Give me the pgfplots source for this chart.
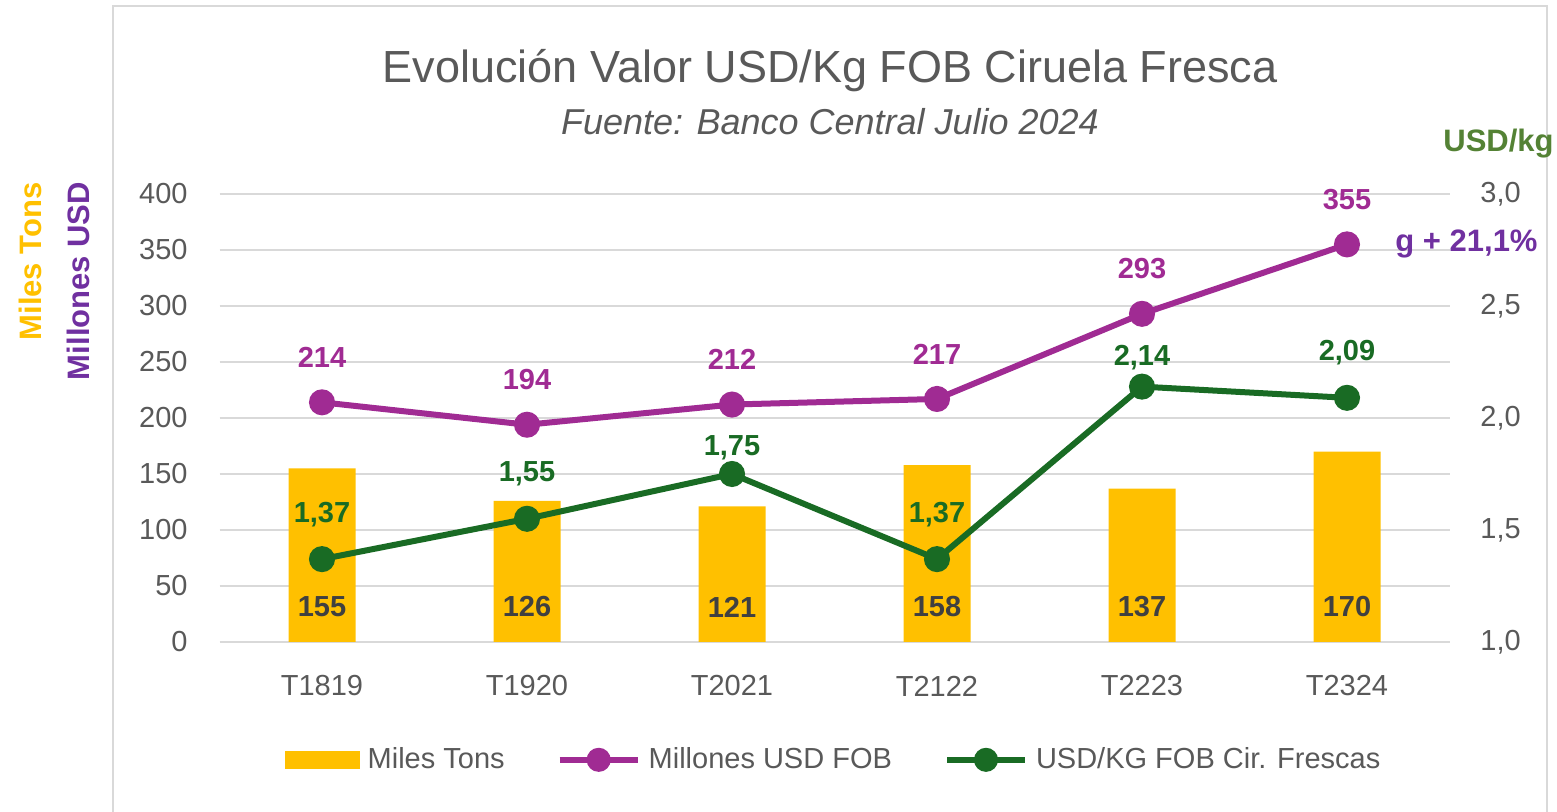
\documentclass[border=0pt]{standalone}
\usepackage{fontspec}
\setmainfont{Liberation Sans}
\usepackage{pgfplots}
\pgfplotsset{compat=1.18}

\definecolor{barY}{HTML}{FFC000}
\definecolor{purp}{HTML}{A02B93}
\definecolor{grn}{HTML}{196B24}
\definecolor{grnLab}{HTML}{548235}
\definecolor{violet}{HTML}{7030A0}
\definecolor{tickgray}{HTML}{595959}
\definecolor{labgray}{HTML}{404040}
\definecolor{gridgray}{HTML}{D9D9D9}

\newcommand{\fs}[1]{\fontsize{#1}{#1}\selectfont}

\pgfplotsset{
  /pgf/number format/assume math mode=true,
  common/.style={
    at={(0,0)}, anchor=south west,
    width=615pt, height=224pt, scale only axis,
    xmin=-0.5, xmax=5.5,
    axis line style={draw=none},
    major tick length=0pt,
    tick label style={font=\fs{14.5}, text=tickgray},
    clip=false,
  },
  linelegend/.style={
    legend image code/.code={
      \draw[mark repeat=2, mark phase=2, ##1, mark size=4.5pt] plot coordinates {(0pt,0pt) (19.5pt,0pt) (39pt,0pt)};
    }
  },
}

\begin{document}
\begin{tikzpicture}
\useasboundingbox (-109.75pt,-85pt) rectangle (668.75pt,321pt);
\draw[gridgray, line width=1pt] (-53.25pt,-95pt) rectangle (663.75pt,318pt);

% left axis: tons and millions
\begin{axis}[common,
  ymin=0, ymax=400, ytick={0,50,...,400},
  xtick={0,...,5}, xticklabels={T1819,T1920,T2021,T2122,T2223,T2324},
  ymajorgrids, grid style={draw=gridgray, line width=1pt},
  yticklabel style={inner sep=0pt, anchor=east, xshift=-15.75pt},
  xticklabel style={inner sep=0pt, anchor=center, yshift=-22pt},
  legend style={at={(0.5,-0.263)}, anchor=center, draw=none, fill=none,
    font=\fs{14.5}, text=tickgray,
    /tikz/every odd column/.append style={column sep=2pt},
    /tikz/every even column/.append style={column sep=24pt}},
  legend columns=3, legend cell align=left,
]
\addplot[ybar, bar width=33.5pt, fill=barY, draw=none,
  legend image code/.code={\fill[barY] (0pt,-4.5pt) rectangle (37.5pt,4.5pt);}]
  coordinates {(0,155) (1,126) (2,121) (3,158) (4,137) (5,170)};
\addlegendentry{Miles Tons}
\addplot[purp, line width=3pt, mark=*, mark size=5pt, mark options={draw=none, fill=purp}, linelegend]
  coordinates {(0,214) (1,194) (2,212) (3,217) (4,293) (5,355)};
\addlegendentry{Millones USD FOB}
\addlegendimage{grn, line width=3pt, mark=*, mark size=5pt, mark options={draw=none, fill=grn}, linelegend}
\addlegendentry{USD/KG FOB Cir. Frescas}

% labels of the millions line
\addplot[draw=none, mark=none, forget plot, nodes near coords,
  every node near coord/.append style={anchor=center, yshift=22.5pt, font=\bfseries\fs{14.5}, text=purp}]
  coordinates {(0,214) (1,194) (2,212) (3,217) (4,293) (5,355)};
% labels of the bars, at their base
\addplot[draw=none, mark=none, forget plot, nodes near coords, point meta=explicit symbolic,
  every node near coord/.append style={anchor=center, font=\bfseries\fs{14.5}, text=labgray}]
  table[meta=lab] {
x y lab
0 31.3 155
1 31.3 126
2 31.3 121
3 31.3 158
4 31.3 137
5 31.3 170
};
\end{axis}

% right axis: USD/kg
\begin{axis}[common,
  ymin=1, ymax=3, ytick={1,1.5,...,3},
  hide x axis, axis y line*=right,
  yticklabel style={inner sep=0pt, anchor=west, xshift=15.25pt,
    /pgf/number format/.cd, fixed, fixed zerofill, precision=1, use comma},
]
\addplot[grn, line width=3pt, mark=*, mark size=5pt, mark options={draw=none, fill=grn}]
  coordinates {(0,1.37) (1,1.55) (2,1.75) (3,1.37) (4,2.14) (5,2.09)};
\addplot[draw=none, mark=none, nodes near coords, point meta=explicit symbolic,
  every node near coord/.append style={anchor=center, font=\bfseries\fs{14.5}, text=grn}]
  table[meta=lab] {
x y lab
0 1.567 1,37
1 1.750 1,55
2 1.866 1,75
3 1.567 1,37
4 2.268 2,14
5 2.290 2,09
};
\end{axis}

\node[anchor=base, text=tickgray, font=\fs{22.5}] at (305.25pt,279.5pt) {Evolución Valor USD/Kg FOB Ciruela Fresca};
\node[anchor=base, text=tickgray, font=\itshape\fs{18}] at (305.25pt,253.5pt) {Fuente: Banco Central Julio 2024};
\node[anchor=base, rotate=90, text=barY, font=\bfseries\fs{15.5}] at (-88.75pt,190.25pt) {Miles Tons};
\node[anchor=base, rotate=90, text=violet, font=\bfseries\fs{15.5}] at (-64.75pt,180.5pt) {Millones USD};
\node[anchor=base west, inner sep=0pt, text=grnLab, font=\bfseries\fs{15.5}] at (611.75pt,245pt) {USD/kg};
\node[anchor=base west, inner sep=0pt, text=violet, font=\bfseries\fs{15.5}] at (587.75pt,195pt) {g + 21,1\%};
\end{tikzpicture}
\end{document}
